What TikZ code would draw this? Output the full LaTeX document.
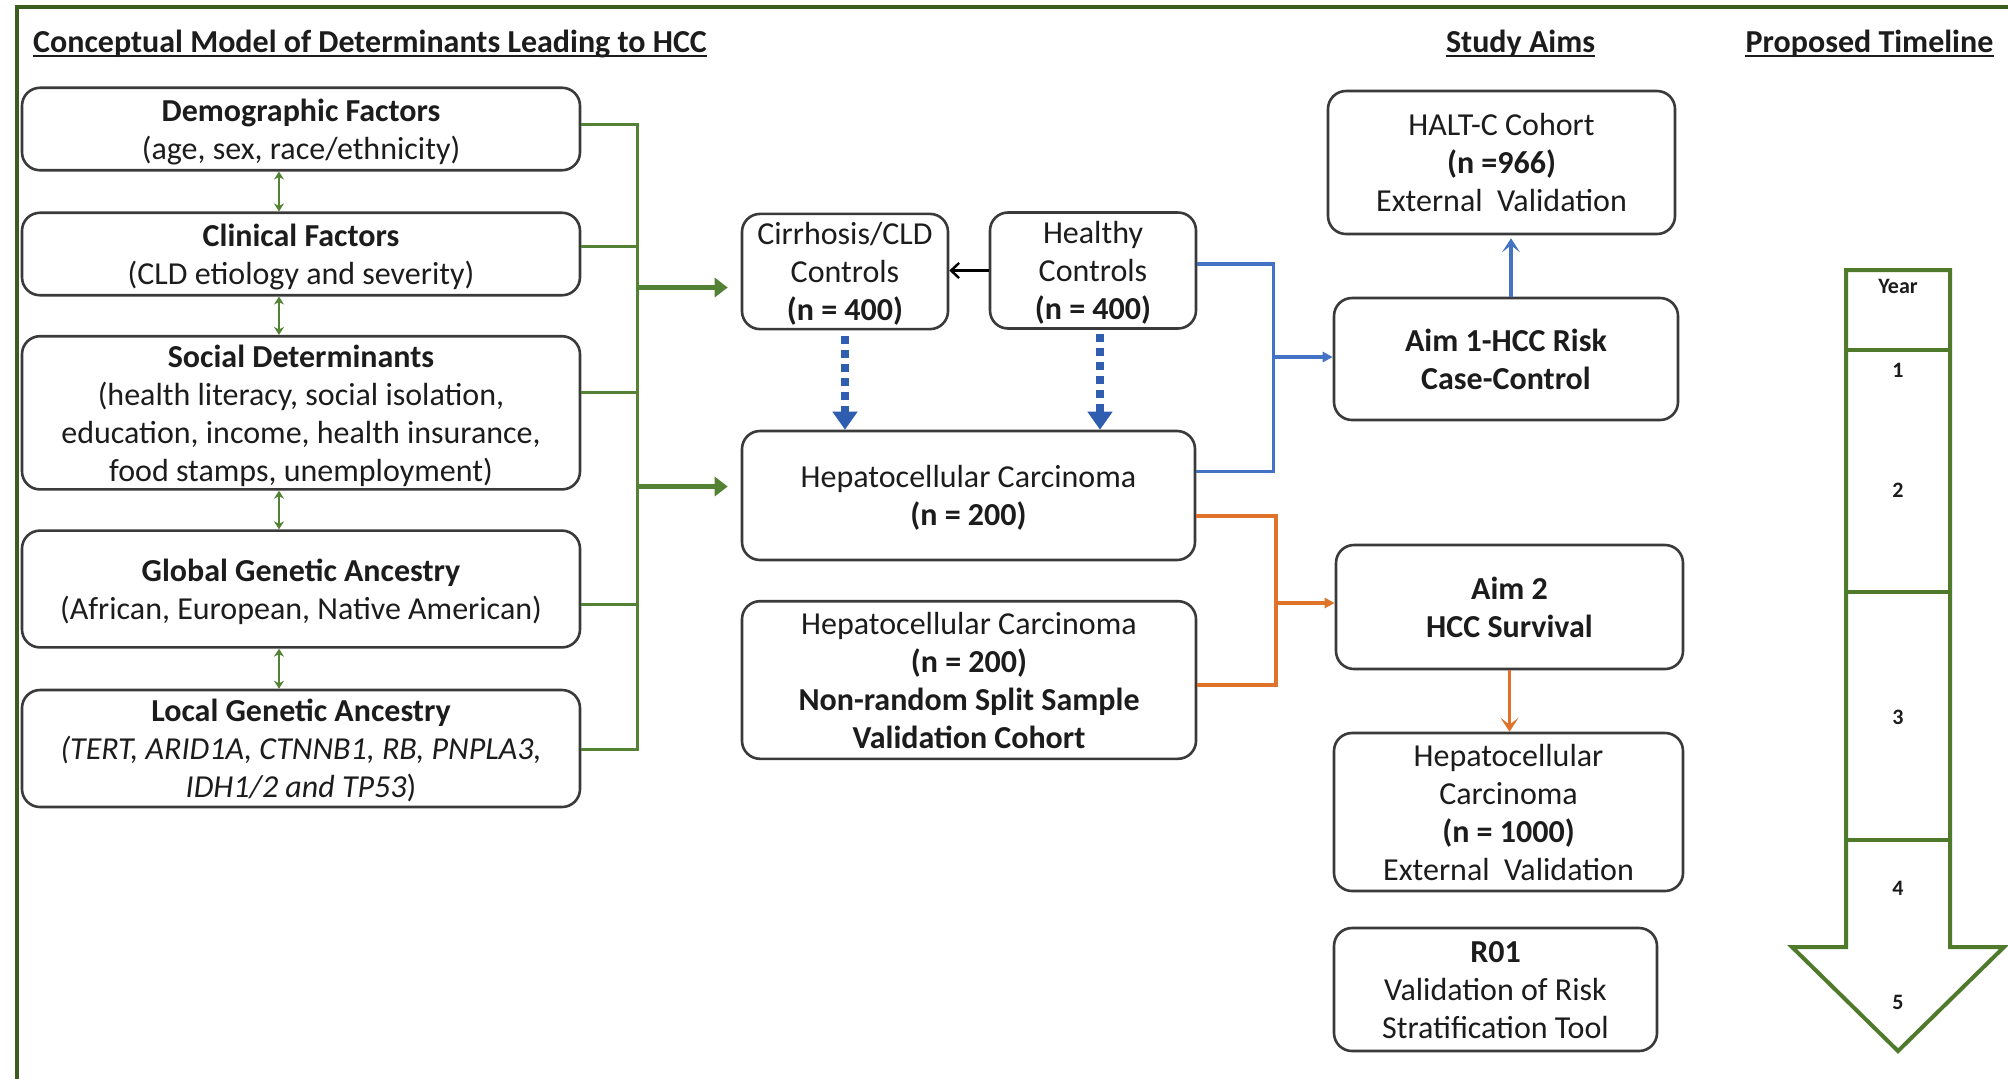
\documentclass[tikz,border=0pt]{standalone}
\usepackage{fontspec}
\setmainfont{Carlito}
\usetikzlibrary{arrows.meta}
\definecolor{frameg}{HTML}{3B5D1F}
\definecolor{lineg}{HTML}{548235}
\definecolor{tlg}{HTML}{4F7A2B}
\definecolor{blu}{HTML}{4472C4}
\definecolor{dblu}{HTML}{2F5DB0}
\definecolor{org}{HTML}{E0732A}
\definecolor{boxgray}{HTML}{3A3A3A}
\definecolor{txt}{HTML}{1C1C1C}
\newcommand{\tstr}{\rule{0pt}{15.4pt}}
\begin{document}
\begin{tikzpicture}[x=0.5pt,y=-0.5pt,
  box/.style={draw=boxgray, line width=1.3pt, rounded corners=9pt, align=center, inner sep=0pt, fill=white,
    font=\fontsize{16}{19}\selectfont, text=txt,
    execute at end node={\rule[-4.2pt]{0pt}{4.2pt}}},
  ttl/.style={inner sep=0pt, anchor=base, font=\fontsize{16}{19}\selectfont\bfseries, text=txt},
  uline/.style={line width=1.1pt, draw=txt},
  gline/.style={draw=lineg, line width=1.5pt},
  garrow/.style={draw=lineg, line width=2.3pt, -{Triangle[length=6.5pt,width=9.5pt]}},
  dblarrow/.style={draw=lineg, line width=1.3pt, {Stealth[length=4pt,width=5pt]}-{Stealth[length=4pt,width=5pt]}},
  karrow/.style={draw=black, line width=1.2pt, -{Straight Barb[length=4pt,width=7.5pt]}},
  bdash/.style={draw=dblu, line width=3.6pt, dash pattern=on 4pt off 3pt, -{Triangle[length=9pt,width=12pt]}},
  bline/.style={draw=blu, line width=1.7pt},
  barrow/.style={draw=blu, line width=1.7pt, -{Triangle[length=5pt,width=5pt]}},
  barrowup/.style={draw=blu, line width=1.9pt, -{Stealth[length=7pt,width=9pt,inset=3.5pt]}},
  oline/.style={draw=org, line width=1.7pt},
  oarrow/.style={draw=org, line width=1.7pt, -{Triangle[length=5pt,width=5pt]}},
  oarrowdn/.style={draw=org, line width=1.9pt, -{Stealth[length=7pt,width=9pt,inset=3.5pt]}},
  tl/.style={draw=tlg, line width=2pt},
  yr/.style={inner sep=0pt, font=\fontsize{11}{13}\selectfont\bfseries, text=txt},
  frm/.style={draw=frameg, line width=2pt}
]
\fill[white] (0,0) rectangle (2008,1078);
\useasboundingbox (0,0) rectangle (2008,1078);
\draw[frm] (17,1090) -- (17,7) -- (2020,7);

% titles
\node[ttl] (t1) at (370,52) {Conceptual Model of Determinants Leading to HCC};
\node[ttl] (t2) at (1520.5,52) {Study Aims};
\node[ttl] (t3) at (1869.5,52) {Proposed Timeline};
\foreach \t in {t1,t2,t3}{
  \draw[uline] ([yshift=-1.8pt]\t.base west) -- ([yshift=-1.8pt]\t.base east);
}

% left column
\node[box, minimum width=279pt, minimum height=41.25pt] (demo) at (301,129)
  {\tstr\textbf{Demographic Factors}\\(age, sex, race/ethnicity)};
\node[box, minimum width=279pt, minimum height=41.25pt] (clin) at (301,254)
  {\tstr\textbf{Clinical Factors}\\(CLD etiology and severity)};
\node[box, minimum width=279pt, minimum height=74.2pt] (soc) at (301,412.8)
  {\tstr\textbf{Social Determinants}\\(health literacy, social isolation,\\education, income, health insurance,\\food stamps, unemployment)};
\node[box, minimum width=279pt, minimum height=58.4pt] (glob) at (301,589)
  {\tstr\textbf{Global Genetic Ancestry}\\(African, European, Native American)};
\node[box, minimum width=279pt, minimum height=58.5pt] (local) at (301,748.5)
  {\tstr\textbf{Local Genetic Ancestry}\\\textit{(TERT, ARID1A, CTNNB1, RB, PNPLA3,}\\\textit{IDH1/2 and TP53})};

% middle column
\node[box, minimum width=103pt, minimum height=57.5pt] (cirr) at (845,271.5)
  {\tstr Cirrhosis/CLD\\Controls\\\textbf{(n = 400)}};
\node[box, minimum width=103pt, minimum height=58pt] (healthy) at (1093,270.5)
  {\tstr Healthy\\Controls\\\textbf{(n = 400)}};
\node[box, minimum width=226.5pt, minimum height=64.5pt] (hcc) at (968.5,495.5)
  {\tstr Hepatocellular Carcinoma\\\textbf{(n = 200)}};
\node[box, minimum width=227pt, minimum height=78.8pt] (hcc2) at (969,680)
  {\tstr Hepatocellular Carcinoma\\\textbf{(n = 200)}\\\textbf{Non-random Split Sample}\\\textbf{Validation Cohort}};

% aims column
\node[box, minimum width=173.5pt, minimum height=71.5pt] (halt) at (1501.5,162.5)
  {\tstr HALT-C Cohort\\\textbf{(n =966)}\\External\ \ Validation};
\node[box, minimum width=172pt, minimum height=61pt] (aim1) at (1506,359)
  {\tstr\textbf{Aim 1-HCC Risk}\\\textbf{Case-Control}};
\node[box, minimum width=173.5pt, minimum height=62pt] (aim2) at (1509.5,607)
  {\tstr\textbf{Aim 2}\\\textbf{HCC Survival}};
\node[box, minimum width=174.5pt, minimum height=79pt] (hcc3) at (1508.5,812)
  {\tstr Hepatocellular\\Carcinoma\\\textbf{(n = 1000)}\\External\ \ Validation};
\node[box, minimum width=161.5pt, minimum height=61.5pt] (r01) at (1495.5,989.5)
  {\tstr\textbf{R01}\\Validation of Risk\\Stratification Tool};

% green bus
\coordinate (bt) at (637,124);
\coordinate (bb) at (637,749.5);
\draw[gline] (demo.east |- bt) -- (bt) -- (bb) -- (local.east |- bb);
\coordinate (c1) at ([yshift=4pt]clin.east);
\coordinate (c2) at ([yshift=10pt]soc.east);
\coordinate (c3) at ([yshift=-7.5pt]glob.east);
\draw[gline] (c1) -- (c1 -| bt);
\draw[gline] (c2) -- (c2 -| bt);
\draw[gline] (c3) -- (c3 -| bt);
\coordinate (g1) at ([yshift=-8pt]cirr.west);
\coordinate (g2) at ([yshift=4.5pt]hcc.west);
\draw[garrow] (g1 -| bt) -- ([xshift=-6.5pt]g1);
\draw[garrow] (g2 -| bt) -- ([xshift=-6.5pt]g2);

% double arrows
\draw[dblarrow] ([xshift=-11pt]demo.south) -- ([xshift=-11pt]clin.north);
\draw[dblarrow] ([xshift=-11pt]clin.south) -- ([xshift=-11pt]soc.north);
\draw[dblarrow] ([xshift=-11pt]soc.south) -- ([xshift=-11pt]glob.north);
\draw[dblarrow] ([xshift=-11pt]glob.south) -- ([xshift=-11pt]local.north);

% healthy -> cirrhosis
\draw[karrow] (healthy.west) -- (healthy.west -| cirr.east);

% dashed blue arrows
\coordinate (d1) at ([yshift=-3pt]cirr.south);
\coordinate (d2) at ([xshift=3.5pt,yshift=-2pt]healthy.south);
\draw[bdash] (d1) -- (d1 |- hcc.north);
\draw[bdash] (d2) -- (d2 |- hcc.north);

% blue connector
\coordinate (h1) at ([yshift=3.25pt]healthy.east);
\coordinate (h2) at ([yshift=12pt]hcc.east);
\coordinate (bx) at (1273.6,357);
\draw[bline] (h1) -- (h1 -| bx) -- (h2 -| bx) -- (h2);
\draw[barrow] (bx) -- (bx -| aim1.west);
\coordinate (u1) at ([xshift=2.5pt]aim1.north);
\draw[barrowup, shorten >=1.5pt] (u1) -- (u1 |- halt.south);

% orange connector
\coordinate (o1) at ([yshift=-10.25pt]hcc.east);
\coordinate (o2) at ([yshift=-2.5pt]hcc2.east);
\coordinate (ox) at (1276,603);
\draw[oline] (o1) -- (o1 -| ox) -- (o2 -| ox) -- (o2);
\draw[oarrow] (ox) -- (ox -| aim2.west);
\draw[oarrowdn] (aim2.south) -- (aim2.south |- hcc3.north);

% timeline
\draw[tl, line join=miter] (1846,270) -- (1950,270) -- (1950,947) -- (2004,947) -- (1898,1051) -- (1792,947) -- (1846,947) -- cycle;
\draw[tl] (1846,350) -- (1950,350);
\draw[tl] (1846,592) -- (1950,592);
\draw[tl] (1846,840) -- (1950,840);
\node[yr] (y0) at (1898,286) {Year};
\node[yr] (y1) at (1898,370) {1};
\node[yr] (y2) at (1898,490) {2};
\node[yr] (y3) at (1898,717) {3};
\node[yr] (y4) at (1898,888) {4};
\node[yr] (y5) at (1898,1002) {5};
\end{tikzpicture}
\end{document}
